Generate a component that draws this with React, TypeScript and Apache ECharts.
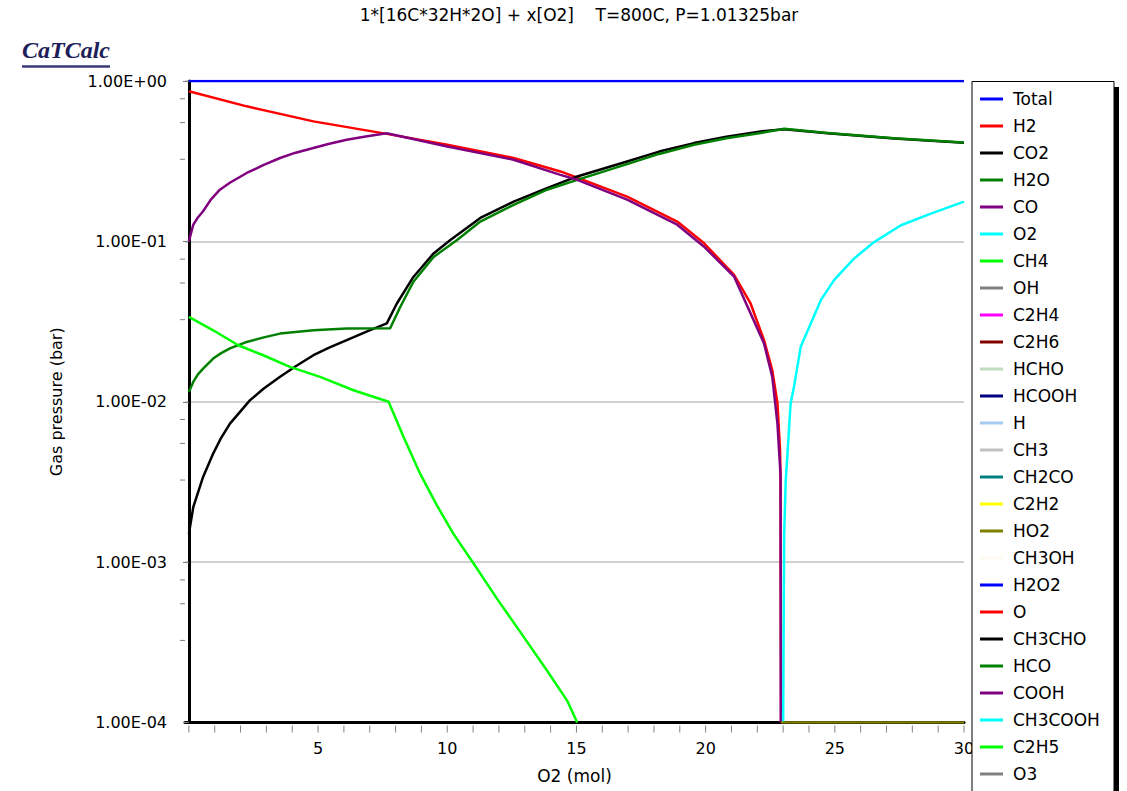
import React, { useEffect, useRef } from 'react';
import * as echarts from 'echarts';

const seriesNames = ['Total', 'H2', 'CO2', 'H2O', 'CO', 'O2', 'CH4', 'OH', 'C2H4', 'C2H6', 'HCHO', 'HCOOH', 'H', 'CH3', 'CH2CO', 'C2H2', 'HO2', 'CH3OH', 'H2O2', 'O', 'CH3CHO', 'HCO', 'COOH', 'CH3COOH', 'C2H5', 'O3'];
const seriesColors = ['#0000ff', '#ff0000', '#000000', '#008000', '#800080', '#00ffff', '#00ff00', '#808080', '#ff00ff', '#800000', '#c0dcc0', '#000080', '#a6caf0', '#c0c0c0', '#008080', '#ffff00', '#808000', '#fffbf0', '#0000ff', '#ff0000', '#000000', '#008000', '#800080', '#00ffff', '#00ff00', '#808080'];

const totalData = [[0, 1], [30, 1]];
const h2Data = [[0, 0.863], [2.24, 0.695], [4.82, 0.56], [7.66, 0.468], [10, 0.4], [12.57, 0.331], [14.38, 0.273], [15.03, 0.25], [16.96, 0.19], [18.9, 0.133], [19.93, 0.0977], [21.1, 0.0618], [21.74, 0.041], [22.26, 0.0242], [22.58, 0.0157], [22.78, 0.0098], [22.88, 0.005], [22.9, 0.0032], [22.92, 0.0001]];
const co2Data = [[0, 0.0015], [0.17, 0.0022], [0.55, 0.0034], [0.94, 0.00475], [1.25, 0.00596], [1.59, 0.0073], [2.36, 0.0102], [2.9, 0.0121], [3.53, 0.0143], [4.15, 0.0167], [4.82, 0.0195], [5.45, 0.0218], [6.11, 0.0242], [6.9, 0.0275], [7.66, 0.0308], [8.05, 0.041], [8.69, 0.06], [9.47, 0.0841], [10.12, 0.102], [11.28, 0.14], [12.57, 0.177], [13.86, 0.215], [15.03, 0.254], [16.96, 0.315], [18.2, 0.363], [19.55, 0.41], [20.8, 0.449], [22.13, 0.485], [23.04, 0.5], [24.72, 0.472], [27.3, 0.438], [30, 0.412]];
const h2oData = [[0, 0.0115], [0.17, 0.0133], [0.35, 0.0148], [0.55, 0.0161], [0.94, 0.0186], [1.25, 0.0201], [1.59, 0.0215], [2.24, 0.0236], [2.9, 0.0252], [3.53, 0.0266], [4.82, 0.0279], [6.11, 0.0286], [7.79, 0.0287], [8.18, 0.039], [8.69, 0.056], [9.47, 0.08], [10.38, 0.102], [11.28, 0.133], [12.57, 0.169], [13.86, 0.21], [15.03, 0.242], [16.96, 0.303], [18.2, 0.351], [19.55, 0.4], [20.8, 0.439], [22.13, 0.474], [23.04, 0.504], [24.72, 0.474], [27.3, 0.44], [30, 0.414]];
const coData = [[0, 0.1], [0.17, 0.127], [0.35, 0.141], [0.55, 0.154], [0.85, 0.182], [1.2, 0.21], [1.6, 0.233], [2.24, 0.267], [2.9, 0.3], [3.53, 0.331], [4.1, 0.356], [4.82, 0.382], [5.4, 0.405], [6.11, 0.43], [6.9, 0.453], [7.66, 0.472], [10, 0.39], [12.57, 0.323], [14.38, 0.26], [15.03, 0.242], [16.96, 0.182], [18.9, 0.127], [19.93, 0.093], [21.1, 0.0604], [22.26, 0.0231], [22.58, 0.0143], [22.78, 0.0073], [22.9, 0.0035], [22.91, 0.0001]];
const o2Data = [[23.0, 0.0001], [23.04, 0.0015], [23.1, 0.0032], [23.16, 0.0045], [23.29, 0.0098], [23.42, 0.0124], [23.68, 0.022], [24.07, 0.0308], [24.46, 0.043], [24.97, 0.0573], [25.75, 0.0783], [26.52, 0.099], [27.56, 0.126], [28.72, 0.149], [30, 0.177]];
const ch4Data = [[0, 0.0338], [0.94, 0.0279], [1.91, 0.0225], [2.88, 0.0195], [3.91, 0.0165], [5.08, 0.0143], [6.37, 0.0118], [7.73, 0.01], [8.31, 0.00603], [8.95, 0.00356], [9.6, 0.00226], [10.24, 0.0015], [11.02, 0.00098], [11.93, 0.00059], [12.83, 0.000366], [13.86, 0.000211], [14.64, 0.000137], [15.03, 0.0001]];
const ho2Data = [[22.92, 0.0001], [30, 0.0001]];

const seriesData: Record<string, number[][]> = {
  Total: totalData, H2: h2Data, CO2: co2Data, H2O: h2oData, CO: coData, O2: o2Data, CH4: ch4Data, HO2: ho2Data,
};

const xTickValues = Array.from({ length: 31 }, (_, i) => i);
const xLabelValues = [5, 10, 15, 20, 25, 30];
const yMinorTicks = [0.775, 0.55, 0.325, 0.0775, 0.055, 0.0325, 0.00775, 0.0055, 0.00325, 0.000775, 0.00055, 0.000325];

const X_MIN = -0.15;
const Y_MIN = 0.0001;
const FONT = 'DejaVu Sans';

function expLabel(v: number) {
  const s = v.toExponential(2).toUpperCase();
  const [m, e] = s.split('E');
  const n = parseInt(e, 10);
  return m + 'E' + (n < 0 ? '-' : '+') + String(Math.abs(n)).padStart(2, '0');
}

export default function App() {
  const ref = useRef<HTMLDivElement>(null);
  useEffect(() => {
    if (!ref.current) return;
    const chart = echarts.init(ref.current, null, { renderer: 'svg' });
    const lineSeries = seriesNames.map((name, i) => ({
      name,
      type: 'line',
      data: seriesData[name] || [],
      symbol: 'none',
      showSymbol: false,
      lineStyle: { color: seriesColors[i], width: 2.5, join: 'round' },
      itemStyle: { color: seriesColors[i] },
      z: 2 + i * 0.01,
    }));
    const option: any = {
      animation: false,
      backgroundColor: '#ffffff',
      grid: { left: 185, top: 81, width: 779, height: 641.5, containLabel: false },
      xAxis: {
        type: 'value',
        min: X_MIN,
        max: 30,
        name: 'O2 (mol)',
        nameLocation: 'middle',
        nameGap: 45,
        nameTextStyle: { fontFamily: FONT, fontSize: 17, color: '#000' },
        axisLine: { show: true, lineStyle: { color: '#000', width: 3 } },
        axisTick: { show: false },
        axisLabel: { customValues: xLabelValues, fontFamily: FONT, fontSize: 16, color: '#000', margin: 18 },
        splitLine: { show: false },
      },
      yAxis: {
        type: 'log',
        logBase: 10,
        min: Y_MIN,
        max: 1,
        name: 'Gas pressure (bar)',
        nameLocation: 'middle',
        nameGap: 121,
        nameTextStyle: { fontFamily: FONT, fontSize: 16, color: '#000' },
        axisLine: { show: true, lineStyle: { color: '#000', width: 3 } },
        axisTick: { show: true, length: 6, lineStyle: { color: '#808080', width: 1 } },
        axisLabel: { formatter: expLabel, fontFamily: FONT, fontSize: 16, color: '#000', margin: 18 },
        splitLine: { show: true, lineStyle: { color: '#c0c0c0', width: 1.5 } },
      },
      legend: {
        orient: 'vertical',
        left: 972,
        top: 81,
        padding: [9, 0, 0, 8],
        itemWidth: 23,
        itemHeight: 3,
        itemGap: 9,
        icon: 'rect',
        selectedMode: false,
        z: 100,
        data: seriesNames,
        textStyle: { fontFamily: FONT, fontSize: 17, color: '#000', lineHeight: 18, padding: [0, 0, 0, 5] },
      },
      graphic: [
        { type: 'rect', z: 50, shape: { x: 977, y: 87, width: 142, height: 800 }, style: { fill: '#000' } },
        { type: 'rect', z: 51, shape: { x: 972, y: 81.5, width: 142, height: 800 }, style: { fill: '#fff', stroke: '#000', lineWidth: 1 } },
        { type: 'text', z: 60, x: 579, y: 15, style: { text: '1*[16C*32H*2O] + x[O2]    T=800C, P=1.01325bar', fontFamily: FONT, fontSize: 17, fill: '#000', textAlign: 'center', textVerticalAlign: 'middle' } },
        { type: 'text', z: 60, x: 22, y: 50, style: { text: 'CaTCalc', fontFamily: 'Liberation Serif', fontSize: 24, fontWeight: 'bold', fontStyle: 'italic', fill: '#1e1e5a', textAlign: 'left', textVerticalAlign: 'middle' } },
        { type: 'line', z: 60, shape: { x1: 22, y1: 66.5, x2: 110, y2: 66.5 }, style: { stroke: '#3a3a7a', lineWidth: 2.5 } },
      ],
      series: [
        ...lineSeries,
        {
          type: 'custom',
          name: 'yMinorTicks',
          data: yMinorTicks.map((v) => [X_MIN, v]),
          renderItem: (params: any, api: any) => {
            const p = api.coord([api.value(0), api.value(1)]);
            return { type: 'line', shape: { x1: p[0] - 5, y1: p[1], x2: p[0], y2: p[1] }, style: { stroke: '#808080', lineWidth: 1 } };
          },
          clip: false,
          silent: true,
          z: 1,
        },
        {
          type: 'custom',
          name: 'xTicks',
          data: xTickValues.map((v) => [v, Y_MIN]),
          renderItem: (params: any, api: any) => {
            const p = api.coord([api.value(0), api.value(1)]);
            return { type: 'line', shape: { x1: p[0], y1: p[1] + 3, x2: p[0], y2: p[1] + 10 }, style: { stroke: '#808080', lineWidth: 1 } };
          },
          clip: false,
          silent: true,
          z: 1,
        },
      ],
    };
    chart.setOption(option);
    return () => chart.dispose();
  }, []);
  return <div ref={ref} style={{ position: 'fixed', left: 0, top: 0, width: 1127, height: 791 }} />;
}
